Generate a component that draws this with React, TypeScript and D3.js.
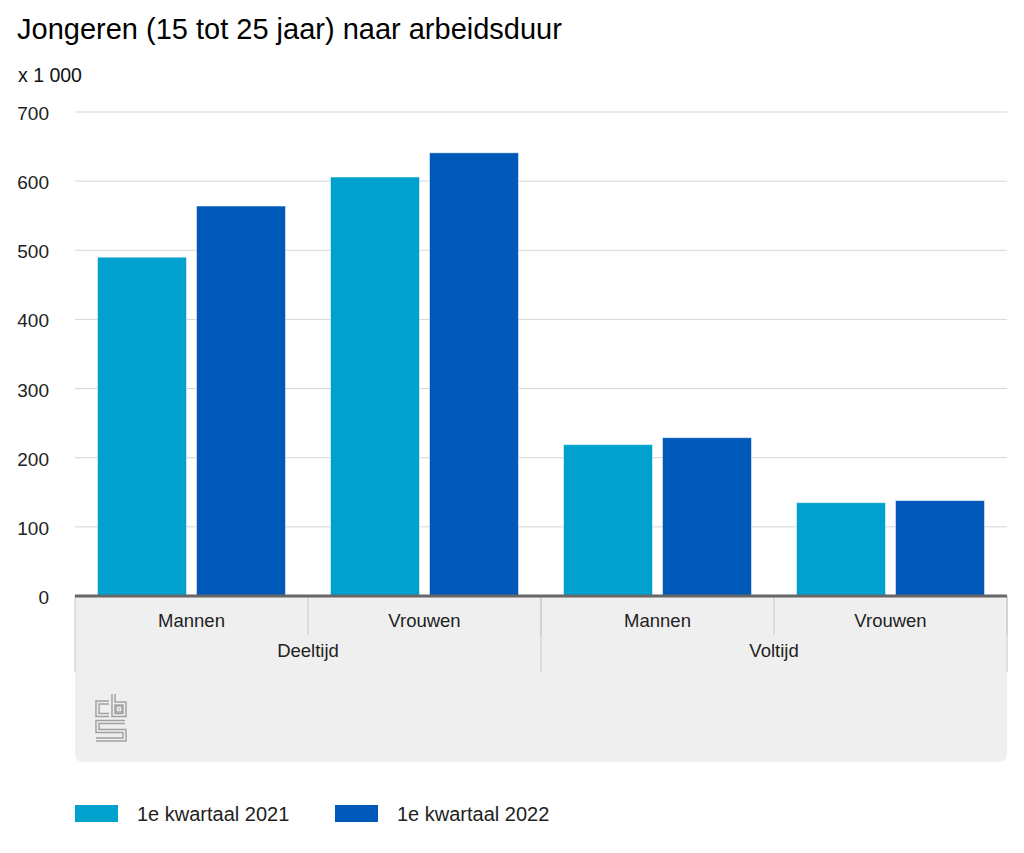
import * as d3 from "d3";

const groups = ["Deeltijd", "Voltijd"];
const sexes = ["Mannen", "Vrouwen"];
const series = ["1e kwartaal 2021", "1e kwartaal 2022"];
const values2021 = [490, 606, 219, 135];
const values2022 = [564, 641, 229, 138];
const yTicks = [0, 100, 200, 300, 400, 500, 600, 700];

const colors = ["#00a1cd", "#0058b8"];
const font = "'Liberation Sans', Arial, sans-serif";

export default function App() {
  const width = 1024;
  const height = 853;
  const left = 75;
  const right = 1007;
  const base = 596;

  const cats = groups.flatMap((g) => sexes.map((s) => `${g}|${s}`));
  const rows = cats.map((c, i) => ({ key: c, vals: [values2021[i], values2022[i]] }));

  const x0 = d3.scaleBand().domain(cats).range([left, right]);
  const xg = d3.scaleBand().domain(groups).range([left, right]);
  const x1 = d3
    .scaleBand()
    .domain(series)
    .range([0, x0.bandwidth()])
    .paddingInner(0.101)
    .paddingOuter(0.2275);
  const y = d3.scaleLinear().domain([0, 700]).range([base, 112]);

  return (
    <svg
      width={width}
      height={height}
      style={{ position: "absolute", left: 0, top: 0, fontFamily: font }}
    >
      <rect width={width} height={height} fill="#fff" />
      <text x={17} y={39} fontSize={29} fill="#000">
        Jongeren (15 tot 25 jaar) naar arbeidsduur
      </text>
      <text x={18} y={81.5} fontSize={19.5} fill="#111">
        x 1 000
      </text>

      {/* grid + tick labels */}
      {yTicks.map((t) => (
        <g key={t}>
          {t > 0 && (
            <line x1={left} x2={right} y1={y(t)} y2={y(t)} stroke="#d6d6d6" strokeWidth={1} />
          )}
          <text x={49} y={y(t) + 8} fontSize={19} textAnchor="end" fill="#222">
            {t}
          </text>
        </g>
      ))}

      {/* bottom panel */}
      <path
        d={`M${left},${base} H${right} V${762 - 8} Q${right},762 ${right - 8},762 H${left + 8} Q${left},762 ${left},${762 - 8} Z`}
        fill="#efefef"
      />

      {/* bars */}
      {rows.map((r) => (
        <g key={r.key} transform={`translate(${x0(r.key)},0)`}>
          {r.vals.map((v, i) => (
            <rect
              key={series[i]}
              x={x1(series[i])}
              y={y(v)}
              width={x1.bandwidth()}
              height={base - y(v)}
              fill={colors[i]}
              stroke="#ffffff"
              strokeOpacity={0.5}
              strokeWidth={1}
            />
          ))}
        </g>
      ))}

      {/* category separators */}
      {cats.map((c) => (
        <line
          key={c}
          x1={x0(c)! + x0.bandwidth()}
          x2={x0(c)! + x0.bandwidth()}
          y1={base}
          y2={635}
          stroke="#c8c8c8"
        />
      ))}
      {[...groups.map((g) => xg(g)!), right].map((gx) => (
        <line key={gx} x1={gx} x2={gx} y1={base} y2={672} stroke="#c8c8c8" />
      ))}

      {/* axis line */}
      <line x1={left} x2={right} y1={base} y2={base} stroke="#666" strokeWidth={3} />

      {/* category labels */}
      {cats.map((c) => (
        <text
          key={c}
          x={x0(c)! + x0.bandwidth() / 2}
          y={627}
          fontSize={18.5}
          textAnchor="middle"
          fill="#222"
        >
          {c.split("|")[1]}
        </text>
      ))}
      {groups.map((g) => (
        <text
          key={g}
          x={xg(g)! + xg.bandwidth() / 2}
          y={657}
          fontSize={18.5}
          textAnchor="middle"
          fill="#222"
        >
          {g}
        </text>
      ))}

      {/* cbs logo */}
      <g fill="none" strokeLinejoin="miter">
        {["#a0a0a0", "#efefef"].map((s, i) => (
          <g key={s} stroke={s} strokeWidth={i === 0 ? 4.5 : 1.6}>
            <path d="M109,702.5 H97.5 V715 H109" />
            <path d="M113.5,694 V715 H124.5 V703.5 H113.5" />
            <rect x={117.5} y={707.5} width={3} height={3} />
            <path d="M125,722 H97.5 V731 H124.5 V739.5 H96" />
          </g>
        ))}
      </g>

      {/* legend */}
      {series.map((s, i) => (
        <g key={s} transform={`translate(${75 + i * 260},805)`}>
          <rect width={43} height={17} fill={colors[i]} />
          <text x={62} y={15.5} fontSize={20} fill="#222">
            {s}
          </text>
        </g>
      ))}
    </svg>
  );
}
